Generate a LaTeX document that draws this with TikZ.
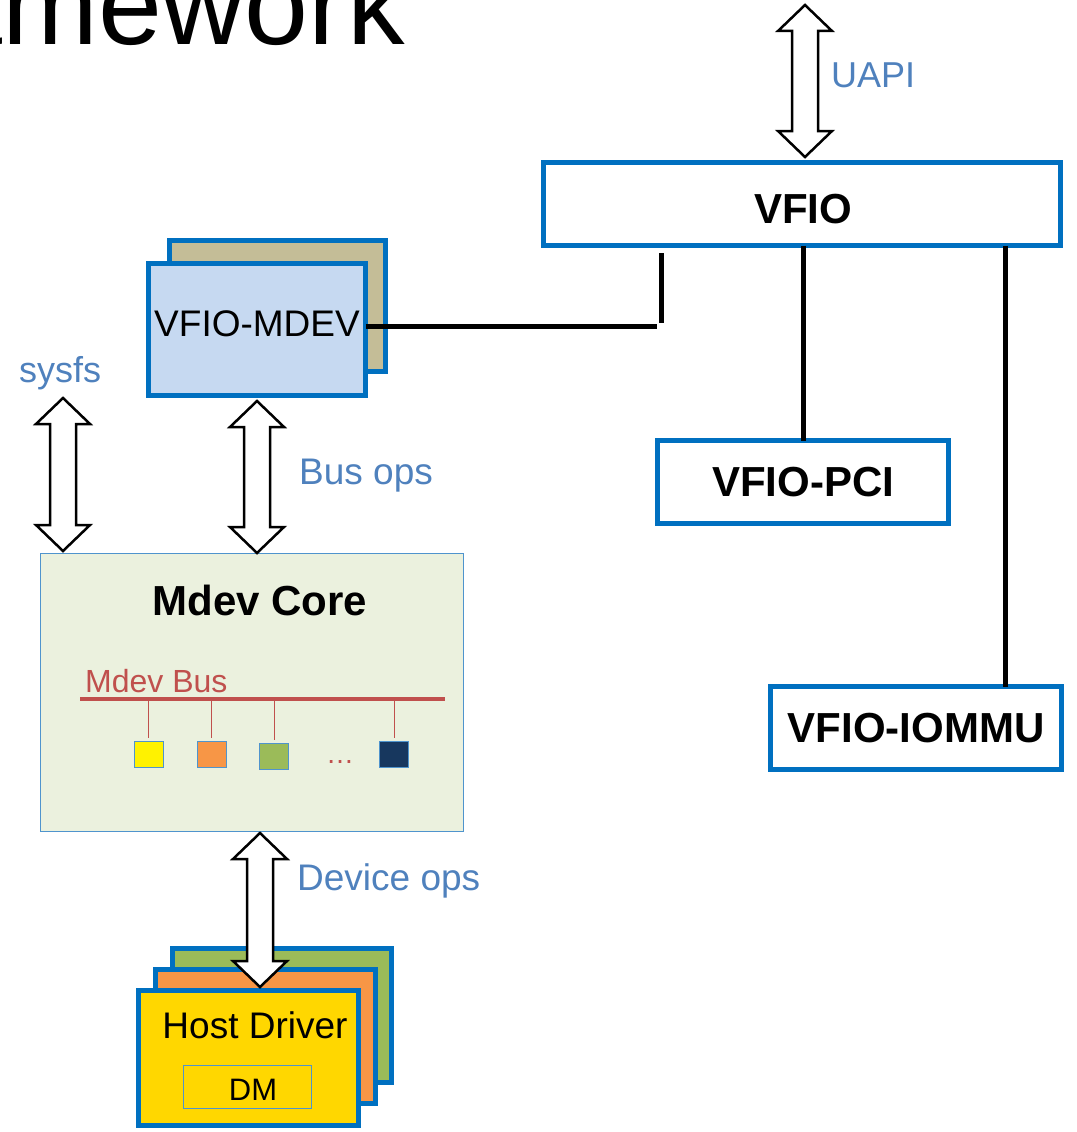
\documentclass[tikz,border=0pt]{standalone}
\usepackage{fontspec}
\setmainfont{Liberation Sans}
\usetikzlibrary{calc}

\definecolor{edgeblue}{HTML}{0070C0}
\definecolor{thinblue}{HTML}{4F94CD}
\definecolor{labelblue}{HTML}{4F81BD}
\definecolor{busred}{HTML}{C0504D}
\definecolor{mdevfill}{HTML}{C6D9F1}
\definecolor{tanfill}{HTML}{C4BD97}
\definecolor{corefill}{HTML}{EBF1DE}
\definecolor{drvgreen}{HTML}{9BBB59}
\definecolor{drvorange}{HTML}{F79646}
\definecolor{drvyellow}{HTML}{FFD700}
\definecolor{navy}{HTML}{17375E}

\newcommand\setfs[1]{\fontsize{#1}{#1}\selectfont}

% double-headed block arrow: centre x, top tip y, bottom tip y
\newcommand\blockarrow[3]{%
  \draw[arrowbox] (#1,#2) -- (#1+27,#2+26) -- (#1+13,#2+26) -- (#1+13,#3-26)
    -- (#1+27,#3-26) -- (#1,#3) -- (#1-27,#3-26) -- (#1-13,#3-26)
    -- (#1-13,#2+26) -- (#1-27,#2+26) -- cycle;}

\tikzset{
  panel/.style={draw=edgeblue, line width=5pt, inner sep=0pt, outer sep=0pt, anchor=north west},
  thinpanel/.style={draw=thinblue, line width=1pt, inner sep=0pt, outer sep=0pt, anchor=north west},
  link/.style={line width=5pt, black},
  arrowbox/.style={draw=black, line width=2.5pt, fill=white, line join=miter},
  lbl/.style={text=labelblue, anchor=west, inner sep=0pt, font=\setfs{36}},
  boldtxt/.style={font=\bfseries\setfs{42}},
  regtxt/.style={font=\setfs{37}},
  devsq/.style={draw=thinblue, line width=1pt, minimum width=29pt, minimum height=26pt, inner sep=0pt, outer sep=0pt},
  drop/.style={draw=busred, line width=1pt},
}

\begin{document}
\begin{tikzpicture}[x=1pt,y=-1pt]
\useasboundingbox (0,0) rectangle (1076,1132);

% heading fragment
\node[anchor=base east, inner sep=0pt, font=\setfs{115}] (title) at (405,45) {amework};

% VFIO layer
\node[panel, fill=white, minimum width=517pt, minimum height=83pt] (vfio) at (543.5,162.5) {};
\node[boldtxt, inner sep=0pt] (vfiotxt) at (803,209) {VFIO};
\node[panel, fill=white, minimum width=291pt, minimum height=83pt, boldtxt] (pci) at (657.5,440.5) {VFIO-PCI};
\node[panel, fill=white, minimum width=291pt, minimum height=83pt, boldtxt] (iommu) at (770.5,686.5) {VFIO-IOMMU};

% VFIO-MDEV stack
\node[panel, fill=tanfill, minimum width=216pt, minimum height=131pt] (mdevback) at (169.5,240.5) {};
\node[panel, fill=mdevfill, minimum width=217pt, minimum height=132pt] (mdev) at (148.5,263.5) {};
\node[regtxt, inner sep=0pt] (mdevtxt) at (257,324) {VFIO-MDEV};

% links below VFIO
\coordinate (jh) at (657,326);
\coordinate (jvtop) at (661,253);
\coordinate (jvbot) at (661,323);
\coordinate (iomtap) at (1005,0);
\draw[link] (mdev.east |- jh) -- (jh);
\draw[link] (jvtop) -- (jvbot);
\draw[link] (vfio.south -| pci.north) -- (pci.north);
\draw[link] (vfio.south -| iomtap) -- (iommu.north -| iomtap);

% Mdev core
\node[thinpanel, fill=corefill, minimum width=423pt, minimum height=278pt] (core) at (40.5,553.5) {};
\node[boldtxt] (coretitle) at (260,600) {Mdev Core};
\coordinate (busl) at (80,699);
\coordinate (busr) at (445,699);
\draw[busred, line width=4pt] (busl) -- (busr);
\node[anchor=base west, inner sep=0pt, text=busred, font=\setfs{32}] (bustxt) at (85,692) {Mdev Bus};
\node[devsq, fill=yellow] (d1) at (148.5,754) {};
\node[devsq, fill=drvorange] (d2) at (211.5,754) {};
\node[devsq, fill=drvgreen] (d3) at (274,756) {};
\node[devsq, fill=navy] (d4) at (394,754) {};
\node[text=busred, font=\setfs{28}, inner sep=0pt] (dots) at (340,762) {…};
\foreach \d in {d1,d2,d3,d4}
  \draw[drop] (\d.north |- busl) -- ([yshift=3pt]\d.north);

% host driver stack
\node[panel, fill=drvgreen, minimum width=219pt, minimum height=134pt] (hd3) at (172.5,948.5) {};
\node[panel, fill=drvorange, minimum width=220pt, minimum height=134pt] (hd2) at (155.5,969.5) {};
\node[panel, fill=drvyellow, minimum width=220pt, minimum height=135pt] (hd1) at (138.5,990.5) {};
\node[regtxt, inner sep=0pt] (hdtxt) at (255,1025) {Host Driver};
\node[thinpanel, minimum width=128pt, minimum height=43pt] (dm) at (183,1065) {};
\node[font=\setfs{31}, inner sep=0pt] (dmtxt) at (253,1090) {DM};

% block arrows
\blockarrow{805}{5}{157}
\blockarrow{63}{398}{551}
\blockarrow{257}{401}{553}
\blockarrow{260}{833}{987}

% arrow labels
\node[lbl] (uapi) at (831,75) {UAPI};
\node[lbl] (sysfs) at (19,373) {sysfs};
\node[lbl, font=\setfs{37}] (busops) at (299,476) {Bus ops};
\node[lbl, font=\setfs{37}] (devops) at (297,881) {Device ops};
\end{tikzpicture}
\end{document}
